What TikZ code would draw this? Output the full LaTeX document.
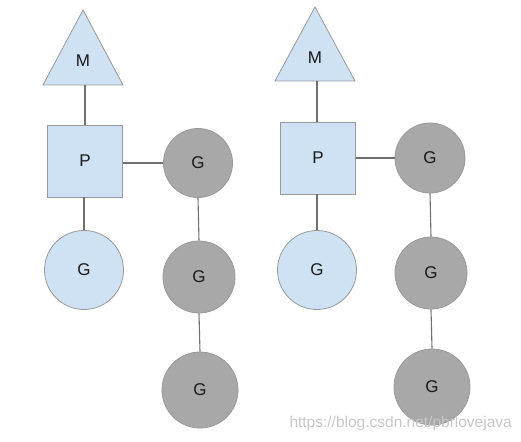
\documentclass[tikz,border=0pt]{standalone}
\usepackage{fontspec}
\setmainfont{Liberation Sans}
\definecolor{lblue}{HTML}{CFE2F3}
\definecolor{ggray}{HTML}{A8A8A8}
\definecolor{edgec}{HTML}{999999}
\definecolor{linkc}{HTML}{707070}
\begin{document}
\begin{tikzpicture}[x=1pt,y=-1pt,
  lbl/.style={font=\fontsize{17}{17}\selectfont, text=black!90},
  pbox/.style={draw=edgec, fill=lblue, line width=0.8pt, minimum width=75pt, minimum height=72pt, inner sep=0pt, lbl},
  gray g/.style={circle, draw=edgec, fill=ggray, line width=0.8pt, inner sep=0pt, lbl},
  blue g/.style={circle, draw=edgec, fill=lblue, line width=0.8pt, inner sep=0pt, minimum size=79pt, lbl},
  mtri/.style={draw=edgec, fill=lblue, line width=0.8pt, line join=miter},
  link/.style={draw=linkc, line width=1.1pt}]
\useasboundingbox (0,0) rectangle (521,441);
% left group
\draw[mtri] (83,10) -- (123,85) -- (43,85) -- cycle;
\node[lbl] (m1) at (83,61) {M};
\coordinate (m1b) at (85,85);
\node[pbox] (p1) at (85,161) {P};
\node[gray g, minimum size=69pt] (g11) at (198,163) {G};
\node[blue g] (b1) at (84,270) {G};
\node[gray g, minimum size=72pt] (g12) at (199,277) {G};
\node[gray g, minimum size=76pt] (g13) at (200,390) {G};
\draw[link] (m1b) -- (m1b |- p1.north);
\draw[link] (p1.east |- g11) -- (g11.west);
\draw[link] (b1.north |- p1.south) -- (b1.north);
\draw[link] (g11.south) -- (g12.north);
\draw[link] (g12.south) -- (g13.north);
% right group
\draw[mtri] (315,7) -- (355,81) -- (275,81) -- cycle;
\node[lbl] (m2) at (315,58) {M};
\coordinate (m2b) at (317,81);
\node[pbox] (p2) at (318,158) {P};
\node[gray g, minimum size=70pt] (g21) at (430,158) {G};
\node[blue g] (b2) at (317,270) {G};
\node[gray g, minimum size=72pt] (g22) at (431,273) {G};
\node[gray g, minimum size=76pt] (g23) at (432,387) {G};
\draw[link] (m2b) -- (m2b |- p2.north);
\draw[link] (p2.east |- g21) -- (g21.west);
\draw[link] (b2.north |- p2.south) -- (b2.north);
\draw[link] (g21.south) -- (g22.north);
\draw[link] (g22.south) -- (g23.north);
% watermark
\node[font=\fontsize{15.5}{16}\selectfont, text=black!22, anchor=east, inner sep=0pt] (wm) at (512,423) {https://blog.csdn.net/pbrlovejava};
\end{tikzpicture}
\end{document}
